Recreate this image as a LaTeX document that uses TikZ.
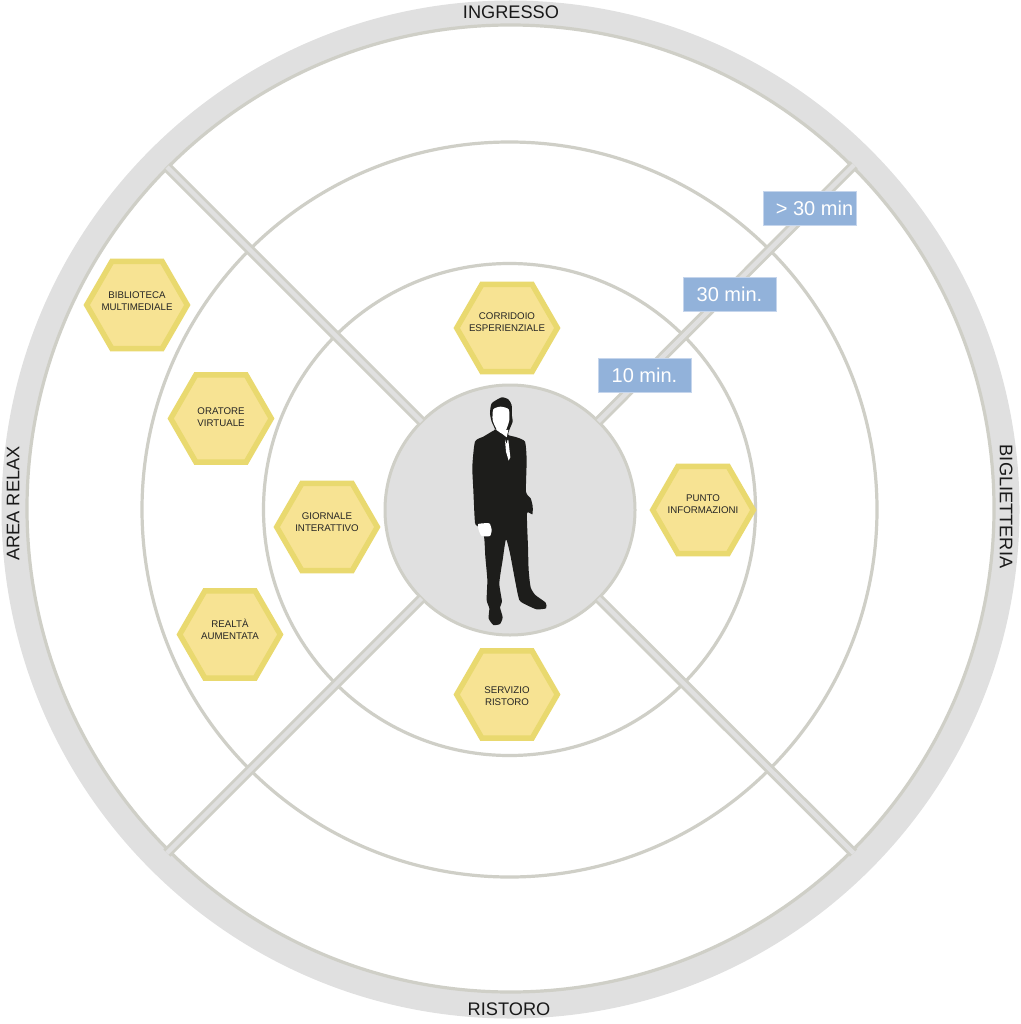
\documentclass[tikz,border=0pt]{standalone}
\usepackage{fontspec}
\setmainfont{Liberation Sans}
\usetikzlibrary{shapes.geometric}
\definecolor{band}{HTML}{E0E0E0}
\definecolor{ringc}{HTML}{CFCFC7}
\definecolor{hexfill}{HTML}{F7E393}
\definecolor{hexline}{HTML}{E9D96F}
\definecolor{tagfill}{HTML}{92B2DA}
\definecolor{tagline}{HTML}{C5D5EC}
\definecolor{suit}{HTML}{1D1D1B}
\tikzset{
  ringnode/.style={circle,draw=ringc,line width=3.2pt,fill=none,inner sep=0pt,outer sep=0pt},
  spoke/.style={draw=ringc,line width=2.8pt,double=band,double distance=4.4pt},
  hexnode/.style={regular polygon,regular polygon sides=6,minimum size=100.6pt,inner sep=0pt,outer sep=0pt,
    draw=hexline,fill=hexfill,line width=5.5pt},
  hextext/.style={inner sep=0pt,align=center,text=black!85,font=\fontsize{9.7}{11.7}\selectfont},
  tag/.style={rectangle,draw=tagline,line width=.6pt,fill=tagfill,text=white,minimum width=93pt,minimum height=34pt,
    inner sep=0pt,outer sep=0pt,font=\fontsize{20}{24}\selectfont},
  ringlabel/.style={inner sep=0pt,text=black!90,font=\fontsize{18.2}{22}\selectfont}
}
\begin{document}
\begin{tikzpicture}[x=1pt,y=-1pt]
\useasboundingbox (0,0) rectangle (1020,1024);
% rings
\node[circle,fill=band,minimum size=1018pt,inner sep=0pt,outer sep=0pt] (bandring) at (510.5,509.5) {};
\node[ringnode,fill=white,minimum size=967pt] (ring3) at (510.5,508.5) {};
\node[ringnode,minimum size=735pt] (ring2) at (509.5,509.5) {};
\node[ringnode,minimum size=492pt] (ring1) at (509.5,509.5) {};
\node[circle,fill=band,draw=ringc,line width=3pt,minimum size=250pt,inner sep=0pt,outer sep=0pt] (hub) at (510,510) {};
% spokes
\coordinate (ne) at (854,165);
\coordinate (nw) at (167,167);
\coordinate (sw) at (167,853);
\coordinate (se) at (853.5,853);
\draw[spoke] (hub) -- (ne);
\draw[spoke] (hub) -- (nw);
\draw[spoke] (hub) -- (sw);
\draw[spoke] (hub) -- (se);
% hexagons
\node[hexnode] (h1) at (137,305) {};
\node[hexnode] (h2) at (221,418.5) {};
\node[hexnode] (h3) at (327,527) {};
\node[hexnode] (h4) at (230,634.5) {};
\node[hexnode] (h5) at (507,328) {};
\node[hexnode] (h6) at (703,510) {};
\node[hexnode] (h7) at (507,694.5) {};
\node[hextext] (x1) at (137,301) {BIBLIOTECA\\MULTIMEDIALE};
\node[hextext] (x2) at (221,417.5) {ORATORE\\VIRTUALE};
\node[hextext] (x3) at (327,522.5) {GIORNALE\\INTERATTIVO};
\node[hextext] (x4) at (230,629) {REALTÀ\\AUMENTATA};
\node[hextext] (x5) at (507,322.5) {CORRIDOIO\\ESPERIENZIALE};
\node[hextext] (x6) at (703,504.5) {PUNTO\\INFORMAZIONI};
\node[hextext] (x7) at (507,696) {SERVIZIO\\RISTORO};
% tags
\node[tag] (t1) at (644.5,375) {10 min.};
\node[tag] (t2) at (729.5,294) {30 min.};
\node[tag] (t3) at (810,208) {\hspace*{9pt}> 30 min};
% ring labels
\node[ringlabel] (l1) at (511,12) {INGRESSO};
\node[ringlabel] (l2) at (509,1009) {RISTORO};
\node[ringlabel,rotate=90] (l3) at (13,503.5) {AREA RELAX};
\node[ringlabel,rotate=-90] (l4) at (1006,506.5) {BIGLIETTERIA};
% man
\begin{scope}[xshift=380pt,yshift=-380pt,x=.3333pt,y=-.3333pt]
\fill[suit] plot[smooth cycle,tension=.35] coordinates {
 (365,52) (385,58) (395,75) (396,108) (398,125) (388,150) (385,165) (410,172) (435,185) (440,240) (438,335)
 (452,355) (458,378) (457,403) (441,400) (444,500) (446,570) (452,622) (466,645) (497,668) (498,685) (470,688)
 (440,675) (418,660) (405,600) (390,520) (378,478) (368,540) (358,610) (366,665) (360,682) (368,712) (360,732)
 (340,735) (326,715) (328,685) (320,660) (322,600) (316,530) (312,470) (295,440) (285,428) (280,330) (277,260)
 (285,185) (310,170) (335,155) (345,148) (335,125) (330,100) (335,70)};
\fill[white] plot[smooth cycle,tension=.4] coordinates {
 (340,88) (362,80) (386,88) (388,120) (378,150) (365,160) (350,148) (338,120)};
\fill[white] (346,148) -- (385,150) -- (380,172) -- (365,160) -- cycle;
\fill[white] (375,180) -- (385,180) -- (391,232) -- (386,242) -- (378,215) -- cycle;
\fill[white] plot[smooth cycle,tension=.3] coordinates {
 (295,432) (328,430) (335,450) (330,468) (305,468) (296,450)};
\fill[suit] (378,172) -- (383,178) -- (380,190) -- (376,182) -- cycle;
\end{scope}
\end{tikzpicture}
\end{document}
